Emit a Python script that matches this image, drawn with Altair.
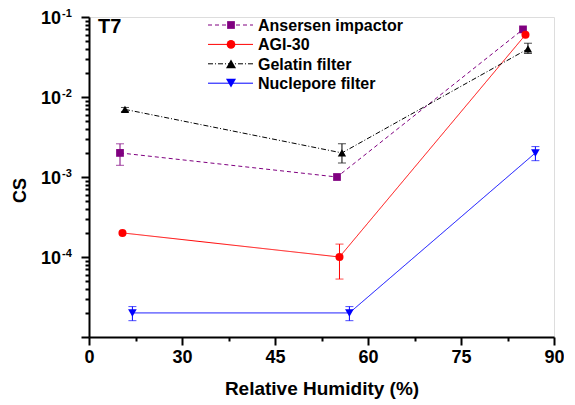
import altair as alt
import pandas as pd

FONT = "Liberation Sans"

series = ["Ansersen impactor", "AGI-30", "Gelatin filter", "Nuclepore filter"]
colors = ["#800080", "#ff0000", "#000000", "#0000ff"]
shapes = ["square", "circle", "triangle-up", "triangle-down"]
marker_sizes = [60, 75, 100, 100]
dashes = [[4, 3], [1, 0], [5, 2, 1, 2], [1, 0]]

rh_ansersen = [20.0, 55.0, 85.0]
cs_ansersen = [2e-3, 1e-3, 7e-2]
lo_ansersen = [1.4e-3, None, None]
hi_ansersen = [2.6e-3, None, None]

rh_agi = [20.4, 55.4, 85.4]
cs_agi = [2e-4, 1e-4, 6e-2]
lo_agi = [None, 5.3e-5, None]
hi_agi = [None, 1.45e-4, None]

rh_gelatin = [20.8, 55.8, 85.8]
cs_gelatin = [7e-3, 2e-3, 4e-2]
lo_gelatin = [6.6e-3, 1.5e-3, 3.5e-2]
hi_gelatin = [7.4e-3, 2.6e-3, 4.7e-2]

rh_nuclepore = [22.0, 57.0, 87.0]
cs_nuclepore = [2e-5, 2e-5, 2e-3]
lo_nuclepore = [1.6e-5, 1.6e-5, 1.6e-3]
hi_nuclepore = [2.4e-5, 2.4e-5, 2.4e-3]

x_ticks = [15, 22.5, 30, 37.5, 45, 52.5, 60, 67.5, 75, 82.5, 90]
decades = [1e-1, 1e-2, 1e-3, 1e-4]
decade_exps = ["-1", "-2", "-3", "-4"]
panel_label = "T7"
x_title = "Relative Humidity (%)"
y_title = "CS"

all_rh = [rh_ansersen, rh_agi, rh_gelatin, rh_nuclepore]
all_cs = [cs_ansersen, cs_agi, cs_gelatin, cs_nuclepore]
all_lo = [lo_ansersen, lo_agi, lo_gelatin, lo_nuclepore]
all_hi = [hi_ansersen, hi_agi, hi_gelatin, hi_nuclepore]

rows, err_rows = [], []
for s, rh, cs, lo, hi in zip(series, all_rh, all_cs, all_lo, all_hi):
    for a, b, l, h in zip(rh, cs, lo, hi):
        rows.append({"series": s, "rh": a, "cs": b})
        if l is not None:
            err_rows.append({"series": s, "rh": a, "lo": l, "hi": h})
df = pd.DataFrame(rows)
err_df = pd.DataFrame(err_rows)

minor_y = []
for d in [1e-5, 1e-4, 1e-3, 1e-2]:
    for m in range(1, 10):
        minor_y.append(round(d * m, 12))
minor_y.append(1e-1)

xscale = alt.Scale(domain=[15, 90], nice=False, zero=False)
yscale = alt.Scale(type="log", domain=[1e-5, 1e-1], nice=False)
cscale = alt.Scale(domain=series, range=colors)
dscale = alt.Scale(domain=series, range=dashes)
sscale = alt.Scale(domain=series, range=shapes)
zscale = alt.Scale(domain=series, range=marker_sizes)

x_axis = alt.Axis(
    values=x_ticks,
    labelExpr="datum.value % 15 == 0 ? (datum.value == 15 ? '0' : datum.label) : ''",
    tickSize={"condition": {"test": "datum.value % 15 == 0", "value": 8}, "value": 4},
    grid=False, domainColor="black", domainWidth=2, tickColor="black", tickWidth=2,
    labelFont=FONT, labelFontSize=18, labelFontWeight="bold", labelColor="black",
    labelPadding=3, labelFlush=False,
    title=x_title, titleFont=FONT, titleFontSize=19, titleFontWeight="bold",
    titleColor="black", titleBaseline="alphabetic", titleY=57,
)
y_axis = alt.Axis(
    values=minor_y, labels=False,
    tickSize={"condition": {"test": "abs(log(datum.value)/LN10 - round(log(datum.value)/LN10)) < 0.001", "value": 8}, "value": 4},
    grid=False, domainColor="black", domainWidth=2, tickColor="black", tickWidth=2,
    title=y_title, titleFont=FONT, titleFontSize=18, titleFontWeight="bold",
    titleColor="black", titleAngle=270, titleX=-69, titleY=173,
    titleAlign="center", titleBaseline="middle",
)

base = alt.Chart(df)
lines = base.mark_line(strokeWidth=1).encode(
    x=alt.X("rh:Q", scale=xscale, axis=x_axis),
    y=alt.Y("cs:Q", scale=yscale, axis=y_axis),
    color=alt.Color("series:N", scale=cscale, legend=None),
    strokeDash=alt.StrokeDash("series:N", scale=dscale, legend=None),
)
errs = alt.Chart(err_df).mark_rule(strokeWidth=1).encode(
    x="rh:Q", y="lo:Q", y2="hi:Q",
    color=alt.Color("series:N", scale=cscale, legend=None),
)
cap_lo = alt.Chart(err_df).mark_tick(orient="horizontal", size=8, thickness=1).encode(
    x="rh:Q", y="lo:Q", color=alt.Color("series:N", scale=cscale, legend=None),
)
cap_hi = alt.Chart(err_df).mark_tick(orient="horizontal", size=8, thickness=1).encode(
    x="rh:Q", y="hi:Q", color=alt.Color("series:N", scale=cscale, legend=None),
)
points = base.mark_point(filled=True, opacity=1).encode(
    x="rh:Q", y="cs:Q",
    color=alt.Color("series:N", scale=cscale, legend=None),
    shape=alt.Shape("series:N", scale=sscale, legend=None),
    size=alt.Size("series:N", scale=zscale, legend=None),
)

lab_df = pd.DataFrame({"v": decades, "e": decade_exps})
ten = alt.Chart(lab_df).mark_text(
    font=FONT, fontSize=18, fontWeight="bold", align="right", baseline="middle", dy=1.5, color="black"
).encode(x=alt.value(-28), y="v:Q", text=alt.value("10"))
exps = alt.Chart(lab_df).mark_text(
    font=FONT, fontSize=11, fontWeight="bold", align="left", baseline="middle", dy=-3, color="black"
).encode(x=alt.value(-27), y="v:Q", text="e:N")

one = pd.DataFrame({"k": [0]})
t7 = alt.Chart(one).mark_text(
    font=FONT, fontSize=20, fontWeight="bold", align="left", baseline="top", color="black"
).encode(x=alt.value(9), y=alt.value(0), text=alt.value(panel_label))

legend_layers = []
row0, row_step = 8, 19.4
for i, (s, c, sh, sz, d) in enumerate(zip(series, colors, shapes, marker_sizes, dashes)):
    ry = row0 + i * row_step
    legend_layers.append(alt.Chart(one).mark_rule(color=c, strokeWidth=1, strokeDash=d).encode(
        x=alt.value(119), x2=alt.value(164), y=alt.value(ry)))
    legend_layers.append(alt.Chart(one).mark_point(filled=True, size=sz, opacity=1, color=c, shape=sh).encode(
        x=alt.value(142), y=alt.value(ry)))
    legend_layers.append(alt.Chart(one).mark_text(
        font=FONT, fontSize=16, fontWeight="bold", align="left", baseline="middle", color="black"
    ).encode(x=alt.value(169), y=alt.value(ry + 1), text=alt.value(s)))

chart = alt.layer(lines, errs, cap_lo, cap_hi, points, ten, exps, t7, *legend_layers).properties(
    width=465, height=320,
    autosize=alt.AutoSizeParams(type="none"),
    padding={"left": 81, "top": 9, "right": 10, "bottom": 68},
).configure_view(stroke=None).configure(background="white")

chart.save("out.html", embed_options={"renderer": "svg", "actions": False})
